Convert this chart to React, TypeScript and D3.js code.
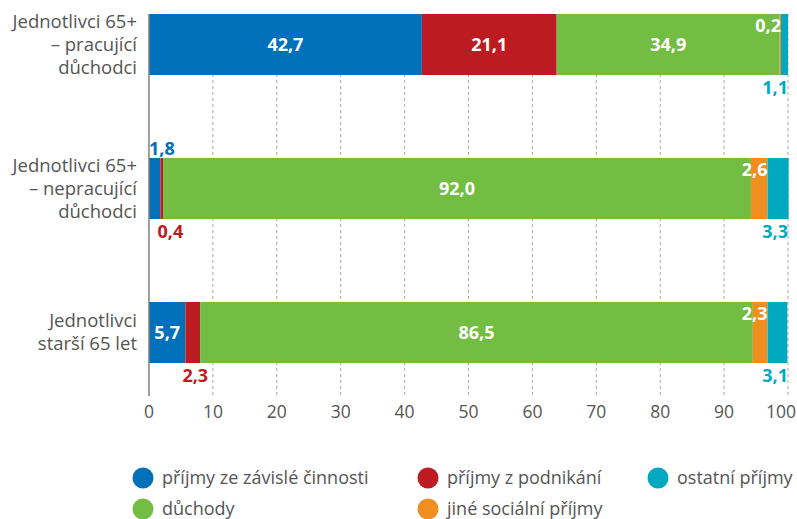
import React from "react";
import * as d3 from "d3";

// categories (lines of the y labels)
const categories = [
  ["Jednotlivci 65+", "– pracující", "důchodci"],
  ["Jednotlivci 65+", "– nepracující", "důchodci"],
  ["Jednotlivci", "starší 65 let"],
];

const seriesNames = [
  "příjmy ze závislé činnosti",
  "příjmy z podnikání",
  "důchody",
  "jiné sociální příjmy",
  "ostatní příjmy",
];

const seriesColors = ["#0070ba", "#bc1b21", "#74bd43", "#ee8f1f", "#00a9bf"];

// values per category, in series order
const employment = [42.7, 1.8, 5.7];
const business = [21.1, 0.4, 2.3];
const pensions = [34.9, 92.0, 86.5];
const socialOther = [0.2, 2.6, 2.3];
const otherIncome = [1.1, 3.3, 3.1];

const xTicks = [0, 10, 20, 30, 40, 50, 60, 70, 80, 90, 100];

const W = 797;
const H = 519;
const FONT = "'Open Sans', sans-serif";

export default function App() {
  const rows = categories.map((c, i) => [
    employment[i], business[i], pensions[i], socialOther[i], otherIncome[i],
  ]);

  const x = d3.scaleLinear().domain([0, 100]).range([149, 788]);
  // bars 61px high, 144px apart
  const y = d3.scaleBand<number>()
    .domain(d3.range(categories.length))
    .range([14, 363])
    .paddingInner(1 - 61 / 144)
    .paddingOuter(0);
  const bw = y.bandwidth();
  const barY = (i: number) => y(i) as number;

  const fmt = (v: number) => v.toFixed(1).replace(".", ",");
  const axisBottom = 396;

  return (
    <svg width={W} height={H} style={{ position: "absolute", left: 0, top: 0, fontFamily: FONT }}>
      {/* grid */}
      {xTicks.slice(1).map((t) => (
        <line key={"g" + t} x1={x(t)} x2={x(t)} y1={14} y2={axisBottom}
          stroke="#a8a8a8" strokeWidth={1} strokeDasharray="3,3" />
      ))}
      {/* bars */}
      {rows.map((vals, i) => {
        const stack = d3.cumsum(vals);
        const y0 = barY(i);
        return (
          <g key={"r" + i}>
            {vals.map((v, j) => {
              const a = j === 0 ? 0 : stack[j - 1];
              return (
                <rect key={j} x={x(a)} y={y0} width={Math.max(0, Math.min(x(a + v), x(100.1)) - x(a))} height={bw}
                  fill={seriesColors[j]} />
              );
            })}
            {vals.map((v, j) => {
              const a = j === 0 ? 0 : stack[j - 1];
              const x0 = x(a);
              const x1 = Math.min(x(a + v), x(100));
              const w = x1 - x0;
              const common = { fontSize: 18, fontWeight: 700 as const, key: "t" + j };
              if (w >= 30) {
                return (
                  <text {...common} x={(x0 + x1) / 2} y={y0 + bw / 2} dy="0.35em"
                    textAnchor="middle" fill="#fff">{fmt(v)}</text>
                );
              }
              if (j === 0) {
                return <text {...common} x={x0} y={y0 - 3} fill={seriesColors[j]}>{fmt(v)}</text>;
              }
              if (j === 1) {
                return <text {...common} x={x0 - 3} y={y0 + bw + 19} fill={seriesColors[j]}>{fmt(v)}</text>;
              }
              if (j === 4) {
                return <text {...common} x={x(100)} y={y0 + bw + 19} textAnchor="end" fill={seriesColors[j]}>{fmt(v)}</text>;
              }
              return <text {...common} x={x1} y={y0 + 18} textAnchor="end" fill="#fff">{fmt(v)}</text>;
            })}
          </g>
        );
      })}
      {/* y axis line */}
      <line x1={x(0)} x2={x(0)} y1={14} y2={axisBottom} stroke="#7f7f7f" strokeWidth={1.5} />
      {/* category labels */}
      {categories.map((lines, i) => {
        const cy = barY(i) + bw / 2;
        const lh = 23;
        return (
          <text key={"c" + i} x={137} fontSize={18.5} fill="#555" textAnchor="end">
            {lines.map((l, k) => (
              <tspan key={k} x={137} y={cy + (k - (lines.length - 1) / 2) * lh} dy="0.35em">{l}</tspan>
            ))}
          </text>
        );
      })}
      {/* x tick labels */}
      {xTicks.map((t, k) => {
        const last = k === xTicks.length - 1;
        return (
          <text key={"x" + t} x={last ? 796 : x(t)} y={418} fontSize={17.5} fill="#555"
            textAnchor={last ? "end" : "middle"}>{t}</text>
        );
      })}
      {/* legend */}
      {seriesNames.map((n, j) => {
        const col = [0, 1, 0, 1, 2][j];
        const row = [0, 0, 1, 1, 0][j];
        const cx = [143, 428, 658][col];
        const cy = [478, 509][row];
        return (
          <g key={"l" + j}>
            <circle cx={cx} cy={cy} r={10.5} fill={seriesColors[j]} />
            <text x={cx + 19} y={cy} dy="0.35em" fontSize={18} fill="#555">{n}</text>
          </g>
        );
      })}
    </svg>
  );
}
